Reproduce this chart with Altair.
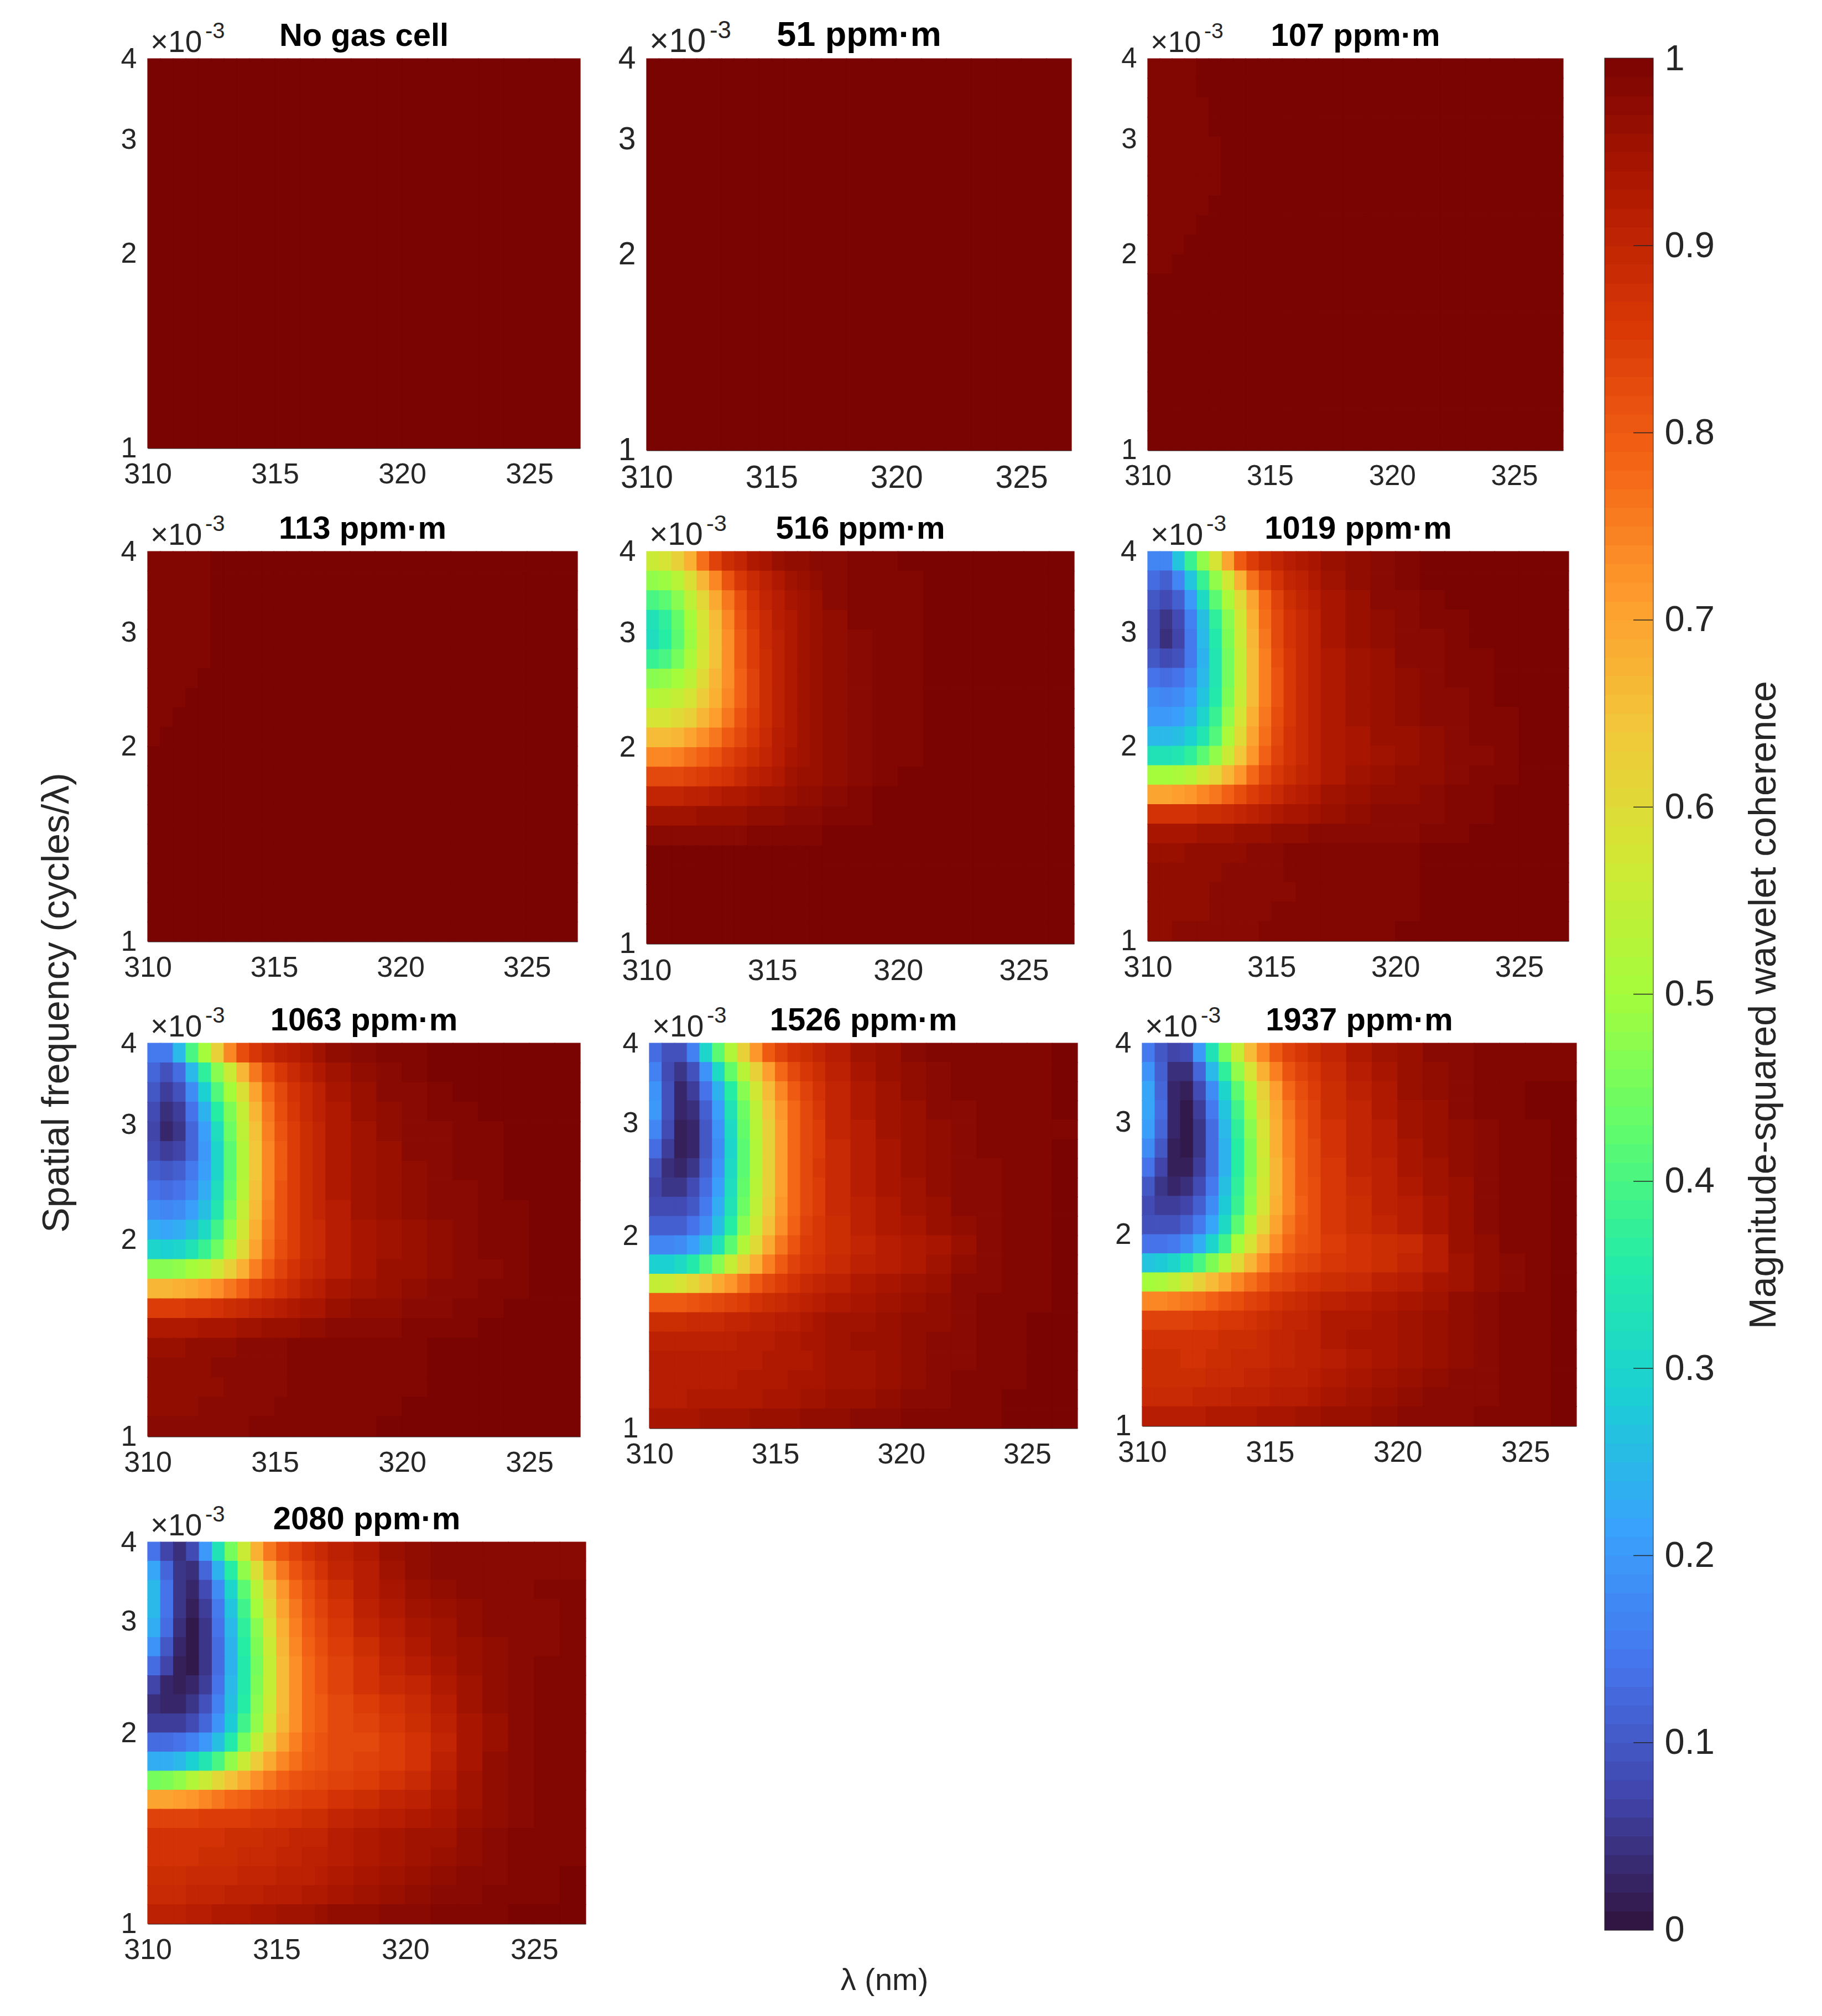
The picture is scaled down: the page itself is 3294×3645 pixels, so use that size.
import altair as alt
import pandas as pd

FONT = "Liberation Sans"
INK = "#262626"

# --- Coherence (percent), rows top (4e-3) to bottom (1e-3).
# Columns follow X_EDGES; rows shorter than the grid continue at 100.
X_EDGES = [310, 310.5, 311, 311.5, 312, 312.5, 313, 313.5, 314, 314.5, 315, 315.5, 316, 316.5, 317,
           318, 319, 320, 321, 322, 323, 324, 325, 326, 327]
P_NONE = [[100]]
P_51 = [[100]]
P_107 = [[99] * 4, [99] * 4, [99] * 5, [99] * 5, [99] * 6, [99] * 6, [99] * 6, [99] * 5, [99] * 4, [99] * 3,
         [99] * 2, [], [], [], [], [], [], [], [], []]
P_113 = [[99] * 5, [99] * 5, [99] * 5, [99] * 5, [99] * 5, [99] * 5, [99] * 4, [99] * 3, [99] * 2, [99],
         [], [], [], [], [], [], [], [], [], []]
P_516 = [
    [56, 58, 62, 68, 77, 84, 88, 90, 93, 94, 96, 97, 97, 98, 98, 99, 99],
    [48, 49, 53, 59, 67, 74, 81, 86, 89, 91, 93, 95, 96, 97, 98, 99, 99, 99],
    [40, 42, 47, 54, 61, 69, 76, 82, 87, 90, 92, 94, 95, 96, 98, 99, 99, 99],
    [33, 37, 43, 50, 58, 66, 74, 81, 86, 89, 92, 93, 95, 96, 97, 99, 99, 99],
    [32, 36, 42, 49, 57, 65, 73, 80, 85, 89, 91, 93, 95, 96, 97, 98, 99, 99],
    [38, 40, 45, 51, 58, 65, 73, 80, 85, 88, 91, 93, 95, 96, 97, 98, 99, 99],
    [47, 48, 50, 54, 60, 67, 73, 79, 84, 88, 91, 93, 95, 96, 97, 98, 99, 99],
    [52, 53, 55, 58, 63, 68, 74, 79, 84, 88, 91, 93, 95, 96, 97, 98, 99, 99],
    [58, 58, 60, 62, 67, 71, 76, 81, 85, 88, 91, 93, 95, 96, 97, 98, 99, 99],
    [66, 66, 67, 70, 73, 76, 80, 83, 86, 89, 92, 93, 95, 96, 97, 98, 99, 99],
    [74, 74, 75, 77, 79, 81, 84, 86, 88, 90, 92, 94, 95, 96, 97, 98, 99, 99],
    [83, 83, 83, 84, 85, 86, 87, 89, 91, 92, 93, 95, 96, 96, 97, 98, 99],
    [90, 90, 90, 91, 91, 92, 93, 93, 94, 95, 95, 96, 97, 97, 98, 99],
    [95, 95, 95, 95, 96, 96, 96, 96, 97, 97, 97, 98, 98, 98, 99, 99],
    [98, 98, 98, 98, 98, 98, 98, 98, 99, 99, 99, 99, 99, 99],
    [], [], [], [], [],
]
P_1019 = [
    [17, 17, 27, 38, 48, 58, 70, 80, 85, 88, 90, 92, 93, 94, 96, 97, 98, 99],
    [13, 11, 17, 27, 38, 48, 57, 68, 77, 83, 87, 90, 91, 93, 95, 97, 98, 99],
    [10, 8, 11, 20, 31, 42, 51, 60, 70, 78, 84, 88, 90, 92, 94, 96, 98, 98, 99],
    [8, 5, 8, 16, 26, 37, 47, 57, 68, 77, 83, 87, 89, 91, 94, 96, 97, 98, 99, 99],
    [8, 4, 7, 15, 25, 35, 46, 56, 67, 76, 83, 87, 89, 91, 94, 96, 97, 98, 98, 99],
    [10, 8, 9, 15, 24, 34, 45, 55, 66, 75, 82, 86, 89, 91, 93, 95, 96, 98, 98, 99, 99],
    [14, 13, 14, 18, 25, 34, 45, 55, 66, 75, 81, 86, 89, 91, 93, 95, 96, 97, 98, 99, 99],
    [18, 17, 18, 21, 27, 35, 46, 56, 66, 75, 81, 86, 89, 91, 93, 95, 96, 97, 98, 98, 99],
    [20, 20, 21, 24, 30, 38, 48, 58, 68, 76, 82, 86, 89, 91, 93, 95, 96, 97, 98, 98, 99, 99],
    [25, 25, 26, 29, 34, 41, 51, 60, 70, 77, 83, 87, 89, 91, 93, 94, 96, 96, 97, 98, 99, 99],
    [33, 33, 34, 37, 42, 48, 56, 64, 72, 79, 84, 87, 89, 91, 93, 94, 95, 96, 97, 98, 98, 99],
    [50, 50, 51, 53, 57, 61, 67, 72, 78, 83, 86, 88, 90, 91, 93, 95, 96, 97, 97, 98, 99, 99],
    [70, 70, 71, 72, 74, 76, 79, 82, 85, 87, 89, 91, 92, 93, 95, 96, 97, 97, 98, 99, 99],
    [87, 87, 87, 87, 88, 88, 89, 90, 91, 92, 93, 94, 94, 95, 96, 97, 98, 98, 98, 99, 99],
    [94, 94, 94, 94, 95, 95, 95, 96, 96, 96, 97, 97, 97, 98, 98, 98, 98, 98, 99, 99],
    [96, 96, 96, 97, 97, 97, 97, 97, 98, 98, 98, 99, 99, 99, 99, 99, 99, 99],
    [97, 97, 97, 97, 97, 97, 98, 98, 98, 98, 98, 99, 99, 99, 99, 99, 99, 99],
    [97, 97, 97, 97, 97, 98, 98, 98, 98, 98, 98, 98, 99, 99, 99, 99, 99, 99],
    [97, 97, 97, 97, 97, 98, 98, 98, 98, 98, 99, 99, 99, 99, 99, 99, 99, 99],
    [97, 97, 98, 98, 98, 98, 98, 98, 98, 99, 99, 99, 99, 99, 99, 99, 99],
]
P_1063 = [
    [15, 15, 25, 40, 50, 62, 74, 82, 86, 89, 91, 92, 93, 95, 97, 98, 99, 99],
    [12, 9, 13, 25, 37, 47, 56, 67, 76, 82, 86, 89, 91, 93, 95, 97, 98, 99],
    [10, 6, 9, 18, 29, 41, 50, 59, 70, 78, 83, 87, 89, 91, 94, 96, 98, 98, 99],
    [8, 4, 6, 14, 24, 36, 46, 55, 67, 76, 82, 86, 89, 91, 93, 96, 97, 98, 99, 99],
    [7, 3, 5, 12, 21, 32, 44, 54, 65, 75, 81, 85, 88, 90, 93, 95, 97, 98, 98, 99, 99],
    [8, 6, 7, 12, 20, 30, 42, 52, 64, 74, 80, 85, 88, 90, 93, 95, 96, 98, 98, 99, 99],
    [11, 10, 11, 15, 21, 30, 42, 52, 64, 74, 80, 85, 88, 90, 93, 95, 96, 97, 98, 99, 99],
    [14, 13, 14, 17, 23, 32, 43, 53, 65, 74, 81, 85, 88, 90, 93, 95, 96, 97, 98, 98, 99],
    [18, 17, 18, 21, 26, 34, 45, 55, 66, 75, 81, 85, 88, 90, 92, 95, 96, 97, 98, 98, 99, 99],
    [23, 22, 23, 26, 31, 39, 48, 57, 68, 76, 81, 85, 88, 89, 92, 94, 95, 96, 97, 98, 99, 99],
    [30, 29, 30, 33, 38, 44, 52, 60, 70, 77, 82, 85, 88, 89, 92, 94, 95, 96, 97, 98, 99, 99],
    [47, 47, 48, 50, 52, 57, 62, 68, 75, 80, 84, 87, 89, 90, 92, 94, 96, 96, 97, 98, 98, 99],
    [67, 67, 68, 69, 71, 73, 76, 79, 83, 85, 87, 89, 91, 92, 94, 95, 96, 97, 98, 98, 99, 99],
    [85, 85, 85, 86, 86, 87, 88, 89, 90, 91, 92, 93, 94, 94, 96, 97, 97, 98, 98, 99, 99],
    [93, 93, 93, 93, 94, 94, 94, 95, 95, 96, 96, 96, 97, 97, 98, 98, 98, 99, 99, 99],
    [96, 96, 96, 97, 97, 97, 97, 98, 98, 98, 98, 99, 99, 99, 99, 99, 99, 99],
    [97, 97, 97, 97, 97, 98, 98, 98, 98, 98, 98, 99, 99, 99, 99, 99, 99, 99],
    [97, 97, 97, 97, 97, 97, 98, 98, 98, 98, 98, 99, 99, 99, 99, 99, 99, 99],
    [97, 97, 97, 97, 98, 98, 98, 98, 98, 98, 99, 99, 99, 99, 99, 99, 99],
    [98, 98, 98, 98, 98, 98, 98, 98, 99, 99, 99, 99, 99, 99, 99, 99],
]
P_1526 = [
    [13, 9, 9, 16, 30, 42, 52, 62, 72, 80, 84, 87, 88, 90, 92, 95, 96, 98, 99, 99, 99, 99, 99],
    [16, 8, 5, 9, 19, 31, 43, 53, 62, 71, 78, 83, 86, 88, 91, 94, 96, 97, 98, 99, 99, 99, 99],
    [19, 9, 3, 6, 14, 24, 36, 47, 57, 66, 74, 80, 84, 87, 90, 93, 95, 97, 98, 99, 99, 99, 99],
    [20, 9, 3, 4, 11, 21, 33, 44, 54, 64, 72, 78, 83, 86, 90, 93, 95, 96, 98, 98, 99, 99, 99],
    [17, 8, 2, 3, 10, 19, 31, 43, 53, 62, 71, 78, 83, 85, 90, 92, 95, 96, 97, 98, 99, 99, 99, 99],
    [13, 6, 2, 3, 10, 18, 30, 42, 52, 62, 71, 78, 83, 85, 89, 92, 94, 96, 97, 98, 99, 99, 99],
    [9, 4, 3, 5, 11, 19, 31, 42, 52, 62, 71, 78, 83, 86, 89, 92, 94, 96, 97, 98, 98, 99, 99],
    [7, 5, 5, 8, 13, 21, 32, 43, 53, 62, 71, 78, 83, 85, 89, 92, 94, 95, 97, 98, 98, 99, 99],
    [8, 8, 8, 10, 15, 23, 33, 44, 54, 63, 72, 78, 83, 85, 89, 91, 93, 95, 96, 98, 98, 99, 99],
    [11, 11, 11, 14, 18, 26, 36, 47, 56, 65, 73, 79, 84, 86, 88, 91, 93, 94, 96, 97, 98, 99, 99],
    [17, 17, 18, 21, 26, 33, 42, 52, 60, 69, 76, 81, 85, 86, 88, 90, 92, 93, 94, 96, 98, 99, 99],
    [29, 29, 31, 35, 41, 47, 55, 62, 68, 75, 80, 84, 86, 87, 89, 91, 92, 93, 95, 97, 98, 99, 99],
    [55, 56, 58, 61, 65, 69, 72, 76, 80, 83, 85, 87, 89, 90, 91, 93, 94, 95, 96, 98, 98, 99, 99],
    [80, 80, 80, 81, 82, 83, 84, 85, 87, 88, 89, 90, 91, 92, 93, 94, 95, 96, 97, 98, 99, 99, 99],
    [88, 88, 88, 89, 89, 89, 90, 90, 91, 91, 92, 92, 93, 94, 95, 95, 96, 97, 97, 98, 99, 99],
    [91, 91, 91, 91, 91, 91, 91, 92, 92, 92, 93, 93, 94, 94, 95, 96, 96, 97, 98, 98, 99, 99],
    [92, 92, 92, 92, 92, 92, 92, 92, 92, 93, 93, 93, 93, 94, 95, 95, 96, 97, 98, 98, 99, 99],
    [92, 92, 92, 92, 92, 92, 92, 93, 93, 93, 93, 94, 94, 94, 95, 95, 96, 97, 98, 99, 99, 99],
    [92, 92, 92, 93, 93, 93, 93, 93, 93, 94, 94, 94, 95, 95, 96, 96, 97, 98, 98, 99, 99],
    [94, 94, 94, 94, 95, 95, 95, 95, 96, 96, 96, 96, 97, 97, 97, 98, 98, 99, 99, 99, 99],
]
P_1937 = [
    [15, 10, 7, 8, 20, 33, 45, 55, 66, 74, 80, 84, 86, 88, 90, 93, 95, 96, 98, 98, 99, 99, 99, 99],
    [19, 11, 4, 4, 12, 25, 37, 48, 58, 68, 75, 81, 84, 86, 89, 92, 94, 96, 97, 98, 99, 99, 99, 99],
    [22, 12, 3, 2, 8, 18, 30, 42, 52, 62, 71, 78, 82, 85, 88, 91, 93, 96, 97, 98, 99, 99],
    [22, 13, 3, 1, 6, 15, 27, 39, 49, 60, 69, 76, 81, 84, 88, 90, 93, 95, 96, 98, 99, 99],
    [21, 12, 3, 1, 5, 13, 25, 37, 47, 58, 68, 75, 80, 84, 87, 90, 92, 95, 96, 97, 98, 99, 99],
    [18, 10, 2, 1, 5, 13, 24, 36, 46, 57, 68, 75, 80, 83, 87, 90, 92, 94, 96, 97, 98, 99, 99],
    [14, 7, 2, 2, 6, 13, 24, 36, 46, 56, 67, 74, 80, 83, 86, 90, 91, 94, 95, 97, 98, 99, 99],
    [10, 5, 3, 4, 8, 15, 26, 37, 47, 57, 67, 74, 80, 82, 86, 89, 91, 93, 95, 96, 98, 99, 99],
    [8, 6, 6, 7, 11, 18, 28, 38, 48, 58, 68, 74, 79, 82, 86, 88, 91, 92, 94, 96, 98, 99, 99],
    [9, 9, 9, 11, 15, 22, 31, 42, 52, 61, 70, 76, 80, 82, 86, 88, 90, 92, 94, 96, 98, 99, 99],
    [14, 14, 15, 18, 23, 30, 39, 50, 58, 66, 73, 78, 81, 82, 85, 87, 88, 89, 92, 96, 97, 99, 99],
    [27, 28, 30, 35, 40, 46, 53, 60, 67, 73, 78, 81, 83, 84, 86, 87, 88, 90, 92, 95, 97, 98, 99],
    [50, 51, 54, 58, 62, 66, 70, 74, 77, 80, 83, 84, 86, 87, 88, 89, 91, 92, 94, 95, 97, 98, 99],
    [74, 74, 75, 76, 77, 79, 81, 82, 84, 85, 87, 88, 89, 90, 91, 92, 93, 94, 95, 97, 98, 99, 99],
    [84, 84, 84, 84, 85, 85, 86, 86, 87, 88, 89, 90, 90, 91, 93, 93, 94, 95, 96, 97, 98, 99, 99],
    [87, 87, 87, 87, 87, 87, 88, 88, 88, 89, 90, 90, 91, 91, 93, 94, 94, 95, 96, 97, 98, 99, 99],
    [88, 88, 88, 87, 87, 88, 88, 89, 89, 89, 90, 90, 91, 91, 92, 93, 94, 95, 96, 97, 98, 99, 99],
    [88, 88, 88, 88, 88, 89, 89, 89, 90, 90, 91, 91, 91, 92, 93, 94, 95, 96, 97, 98, 98, 99, 99],
    [89, 89, 89, 89, 90, 90, 90, 91, 91, 91, 92, 92, 92, 93, 94, 95, 96, 97, 98, 98, 98, 99, 99],
    [92, 92, 92, 92, 92, 93, 93, 93, 93, 94, 94, 94, 95, 95, 96, 96, 97, 98, 98, 98, 99, 99, 99],
]
P_2080 = [
    [14, 7, 4, 8, 20, 33, 45, 56, 68, 76, 81, 84, 87, 89, 91, 93, 96, 97, 98, 98, 98, 98, 98, 98],
    [22, 12, 5, 4, 12, 24, 36, 48, 59, 69, 76, 81, 84, 87, 90, 92, 95, 97, 98, 98, 98, 98, 98, 98],
    [25, 14, 5, 3, 8, 18, 30, 42, 53, 63, 72, 78, 82, 85, 88, 92, 94, 96, 97, 98, 98, 98, 99, 99],
    [25, 14, 5, 2, 6, 15, 27, 39, 50, 60, 70, 76, 81, 84, 87, 91, 93, 95, 96, 97, 98, 98, 98, 99],
    [23, 13, 4, 1, 5, 14, 25, 37, 47, 58, 68, 75, 80, 83, 86, 90, 92, 94, 95, 97, 98, 98, 98, 99],
    [19, 10, 3, 1, 5, 13, 24, 36, 46, 56, 67, 74, 79, 82, 85, 88, 91, 93, 95, 96, 97, 98, 98, 99],
    [13, 7, 2, 1, 5, 13, 24, 35, 45, 55, 66, 73, 78, 81, 84, 87, 90, 92, 94, 96, 97, 98, 99, 99],
    [7, 3, 2, 3, 6, 14, 25, 35, 46, 55, 66, 73, 78, 81, 84, 87, 89, 90, 93, 95, 97, 98, 99, 99],
    [4, 3, 3, 5, 9, 16, 26, 36, 47, 56, 66, 73, 78, 80, 83, 85, 87, 89, 92, 95, 97, 98, 99, 99],
    [6, 6, 6, 8, 12, 19, 28, 39, 48, 58, 67, 73, 78, 80, 83, 84, 86, 88, 91, 94, 96, 98, 99, 99],
    [13, 13, 14, 16, 20, 26, 35, 45, 54, 62, 70, 75, 79, 81, 83, 83, 85, 87, 90, 94, 96, 98, 99, 99],
    [23, 23, 25, 29, 34, 40, 48, 56, 63, 69, 74, 77, 80, 81, 83, 84, 85, 87, 91, 94, 97, 98, 99, 99],
    [45, 46, 48, 52, 56, 61, 65, 69, 73, 76, 79, 81, 82, 83, 84, 85, 87, 89, 92, 95, 97, 98, 99, 99],
    [70, 70, 71, 72, 74, 76, 78, 79, 81, 82, 83, 84, 85, 85, 87, 88, 90, 91, 93, 95, 97, 98, 99, 99],
    [84, 84, 84, 84, 85, 85, 85, 85, 86, 86, 87, 87, 88, 88, 90, 91, 92, 93, 94, 96, 97, 98, 99, 99],
    [87, 87, 87, 87, 87, 87, 88, 88, 88, 89, 89, 90, 90, 90, 92, 93, 94, 95, 95, 97, 98, 99, 99, 99],
    [87, 87, 87, 87, 88, 88, 88, 89, 89, 89, 90, 90, 91, 91, 92, 93, 94, 95, 96, 97, 98, 99, 99, 99],
    [88, 88, 88, 89, 89, 89, 89, 90, 90, 90, 91, 91, 91, 92, 93, 94, 95, 96, 97, 98, 98, 99, 99],
    [89, 89, 89, 90, 90, 90, 91, 91, 91, 92, 92, 92, 93, 93, 94, 95, 96, 97, 98, 98, 99, 99, 99],
    [91, 91, 91, 92, 92, 93, 93, 93, 94, 94, 95, 95, 95, 96, 97, 97, 98, 98, 99, 99, 99],
]

TITLES = ["No gas cell", "51 ppm·m", "107 ppm·m", "113 ppm·m", "516 ppm·m", "1019 ppm·m",
          "1063 ppm·m", "1526 ppm·m", "1937 ppm·m", "2080 ppm·m"]
GRIDS = [P_NONE, P_51, P_107, P_113, P_516, P_1019, P_1063, P_1526, P_1937, P_2080]
X_TICKS = [310, 315, 320, 325]
Y_TICKS = [1, 2, 3, 4]
CBAR_TICKS = [0, 0.1, 0.2, 0.3, 0.4, 0.5, 0.6, 0.7, 0.8, 0.9, 1]
CBAR_LEVELS = [i / 100 for i in range(100)]
TURBO = ["#30123b", "#4145ab", "#4675ed", "#39a2fc", "#1bcfd4", "#24eca6", "#61fc6c", "#a4fc3b",
         "#d1e834", "#f3c63a", "#fe9b2d", "#f36315", "#d93806", "#b11901", "#7a0402"]

# layout per panel: x inset in its cell, plot width, plot height, cell width, cell height, tick font, title font
LAYOUT = [(0, 782, 704, 902, 891, 52, 58), (0, 768, 708, 896, 891, 57, 63), (10, 751, 708, 785, 891, 51, 58),
          (0, 777, 705, 902, 889, 52, 58), (0, 773, 709, 896, 889, 54, 58), (10, 761, 704, 785, 889, 53, 58),
          (0, 782, 711, 902, 902, 52, 58), (5, 774, 696, 896, 902, 52, 58), (0, 785, 692, 785, 902, 53, 58),
          (0, 792, 690, 902, 690, 52, 58)]
COLOR_SCALE = alt.Scale(domain=[i / 14 for i in range(15)], range=TURBO, interpolate="rgb")
ONE = pd.DataFrame({"a": [0]})
NOVIEW = alt.ViewBackground(stroke=None)


def cells(grid):
    nrow = len(grid)
    ncol = len(X_EDGES) - 1
    rows = []
    for j, row in enumerate(grid):
        full = list(row) + [100] * (ncol - len(row))
        for i, v in enumerate(full):
            rows.append({"x0": X_EDGES[i], "x1": X_EDGES[i + 1],
                         "y0": 4 * 0.25 ** (j / nrow), "y1": 4 * 0.25 ** ((j + 1) / nrow), "v": v / 100})
    return pd.DataFrame(rows)


def note(text, x, y, size, **kw):
    return alt.Chart(ONE).mark_text(font=FONT, fontSize=size, color=kw.pop("color", INK),
                                    align=kw.pop("align", "left"),
                                    baseline=kw.pop("baseline", "alphabetic"), **kw).encode(
        x=alt.value(x), y=alt.value(y), text=alt.value(text))


def panel(k, extra=()):
    dx, w, h, cw, ch, fs, ts = LAYOUT[k]
    rect = alt.Chart(cells(GRIDS[k])).mark_rect(strokeWidth=1.2).encode(
        x=alt.X("x0:Q", scale=alt.Scale(domain=[310, 327], nice=False, zero=False, range=[dx, dx + w]),
                axis=alt.Axis(values=X_TICKS, title=None, grid=False, ticks=False, domain=True, domainColor=INK,
                              domainWidth=2, labelFont=FONT, labelFontSize=fs, labelColor=INK, labelPadding=22,
                              labelFlush=False, labelOverlap=False, format="d", offset=h - ch)),
        x2="x1:Q",
        y=alt.Y("y0:Q", scale=alt.Scale(type="log", domain=[1, 4], nice=False, range=[h, 0]),
                axis=alt.Axis(values=Y_TICKS, title=None, grid=False, ticks=False, domain=False, labelFont=FONT,
                              labelFontSize=fs, labelColor=INK, labelPadding=20, labelFlush=False,
                              labelOverlap=False, format="d", offset=-dx)),
        y2="y1:Q",
        color=alt.Color("v:Q", scale=COLOR_SCALE, legend=None),
        stroke=alt.Stroke("v:Q", scale=COLOR_SCALE, legend=None),
    )
    s = fs / 52
    layers = [rect,
              note("×10", dx + 5, -12, 55 * s),
              note("-3", dx + 104 * s, -37, 40 * s),
              note(TITLES[k], dx + w / 2, -23, ts, color="black", align="center", fontWeight="bold")] + list(extra)
    return alt.layer(*layers).properties(width=cw, height=ch, view=NOVIEW)


ylabel = note("Spatial frequency (cycles/λ)", -163, 816, 68, align="center", baseline="middle", angle=270)
xlabel = note("λ (nm)", 1332, 793, 56, align="center", baseline="middle")

left = alt.concat(panel(0), panel(1), panel(2), panel(3, [ylabel]), panel(4), panel(5),
                  panel(6), panel(7), panel(8), panel(9, [xlabel]),
                  columns=3, bounds="flush", spacing=0, align="each")

CB_W, CB_H = 86, 3383
bands = pd.DataFrame({"lo": CBAR_LEVELS, "hi": [v + 0.01 for v in CBAR_LEVELS], "mid": [v + 0.005 for v in CBAR_LEVELS]})
ticks = pd.DataFrame({"t": CBAR_TICKS[1:-1]})
cb_rect = alt.Chart(bands).mark_rect(strokeWidth=1).encode(
    y=alt.Y("lo:Q", scale=alt.Scale(domain=[0, 1], nice=False),
            axis=alt.Axis(values=CBAR_TICKS, orient="right", title=None, grid=False, ticks=False, domain=False,
                          labelFont=FONT, labelFontSize=65, labelColor=INK, labelPadding=21, labelFlush=False,
                          labelOverlap=False, format="~g")),
    y2="hi:Q",
    color=alt.Color("mid:Q", scale=COLOR_SCALE, legend=None),
    stroke=alt.Stroke("mid:Q", scale=COLOR_SCALE, legend=None),
)
cb_ticks = alt.Chart(ticks).mark_rule(color=INK, strokeWidth=1.5).encode(
    y=alt.Y("t:Q"), x=alt.value(CB_W - 35), x2=alt.value(CB_W))
cb_title = note("Magnitude-squared wavelet coherence", 288, 1711, 68, align="center", baseline="middle", angle=270)
colorbar = alt.layer(cb_rect, cb_ticks, cb_title).properties(
    width=CB_W, height=CB_H, view=alt.ViewBackground(stroke=INK, strokeWidth=3))

chart = alt.hconcat(left, colorbar, spacing=49).properties(
    padding={"left": 62, "top": 25, "right": 0, "bottom": 0}, background="white"
).configure_view(stroke=None)

chart.save("out.html", embed_options={"renderer": "svg", "actions": False})
